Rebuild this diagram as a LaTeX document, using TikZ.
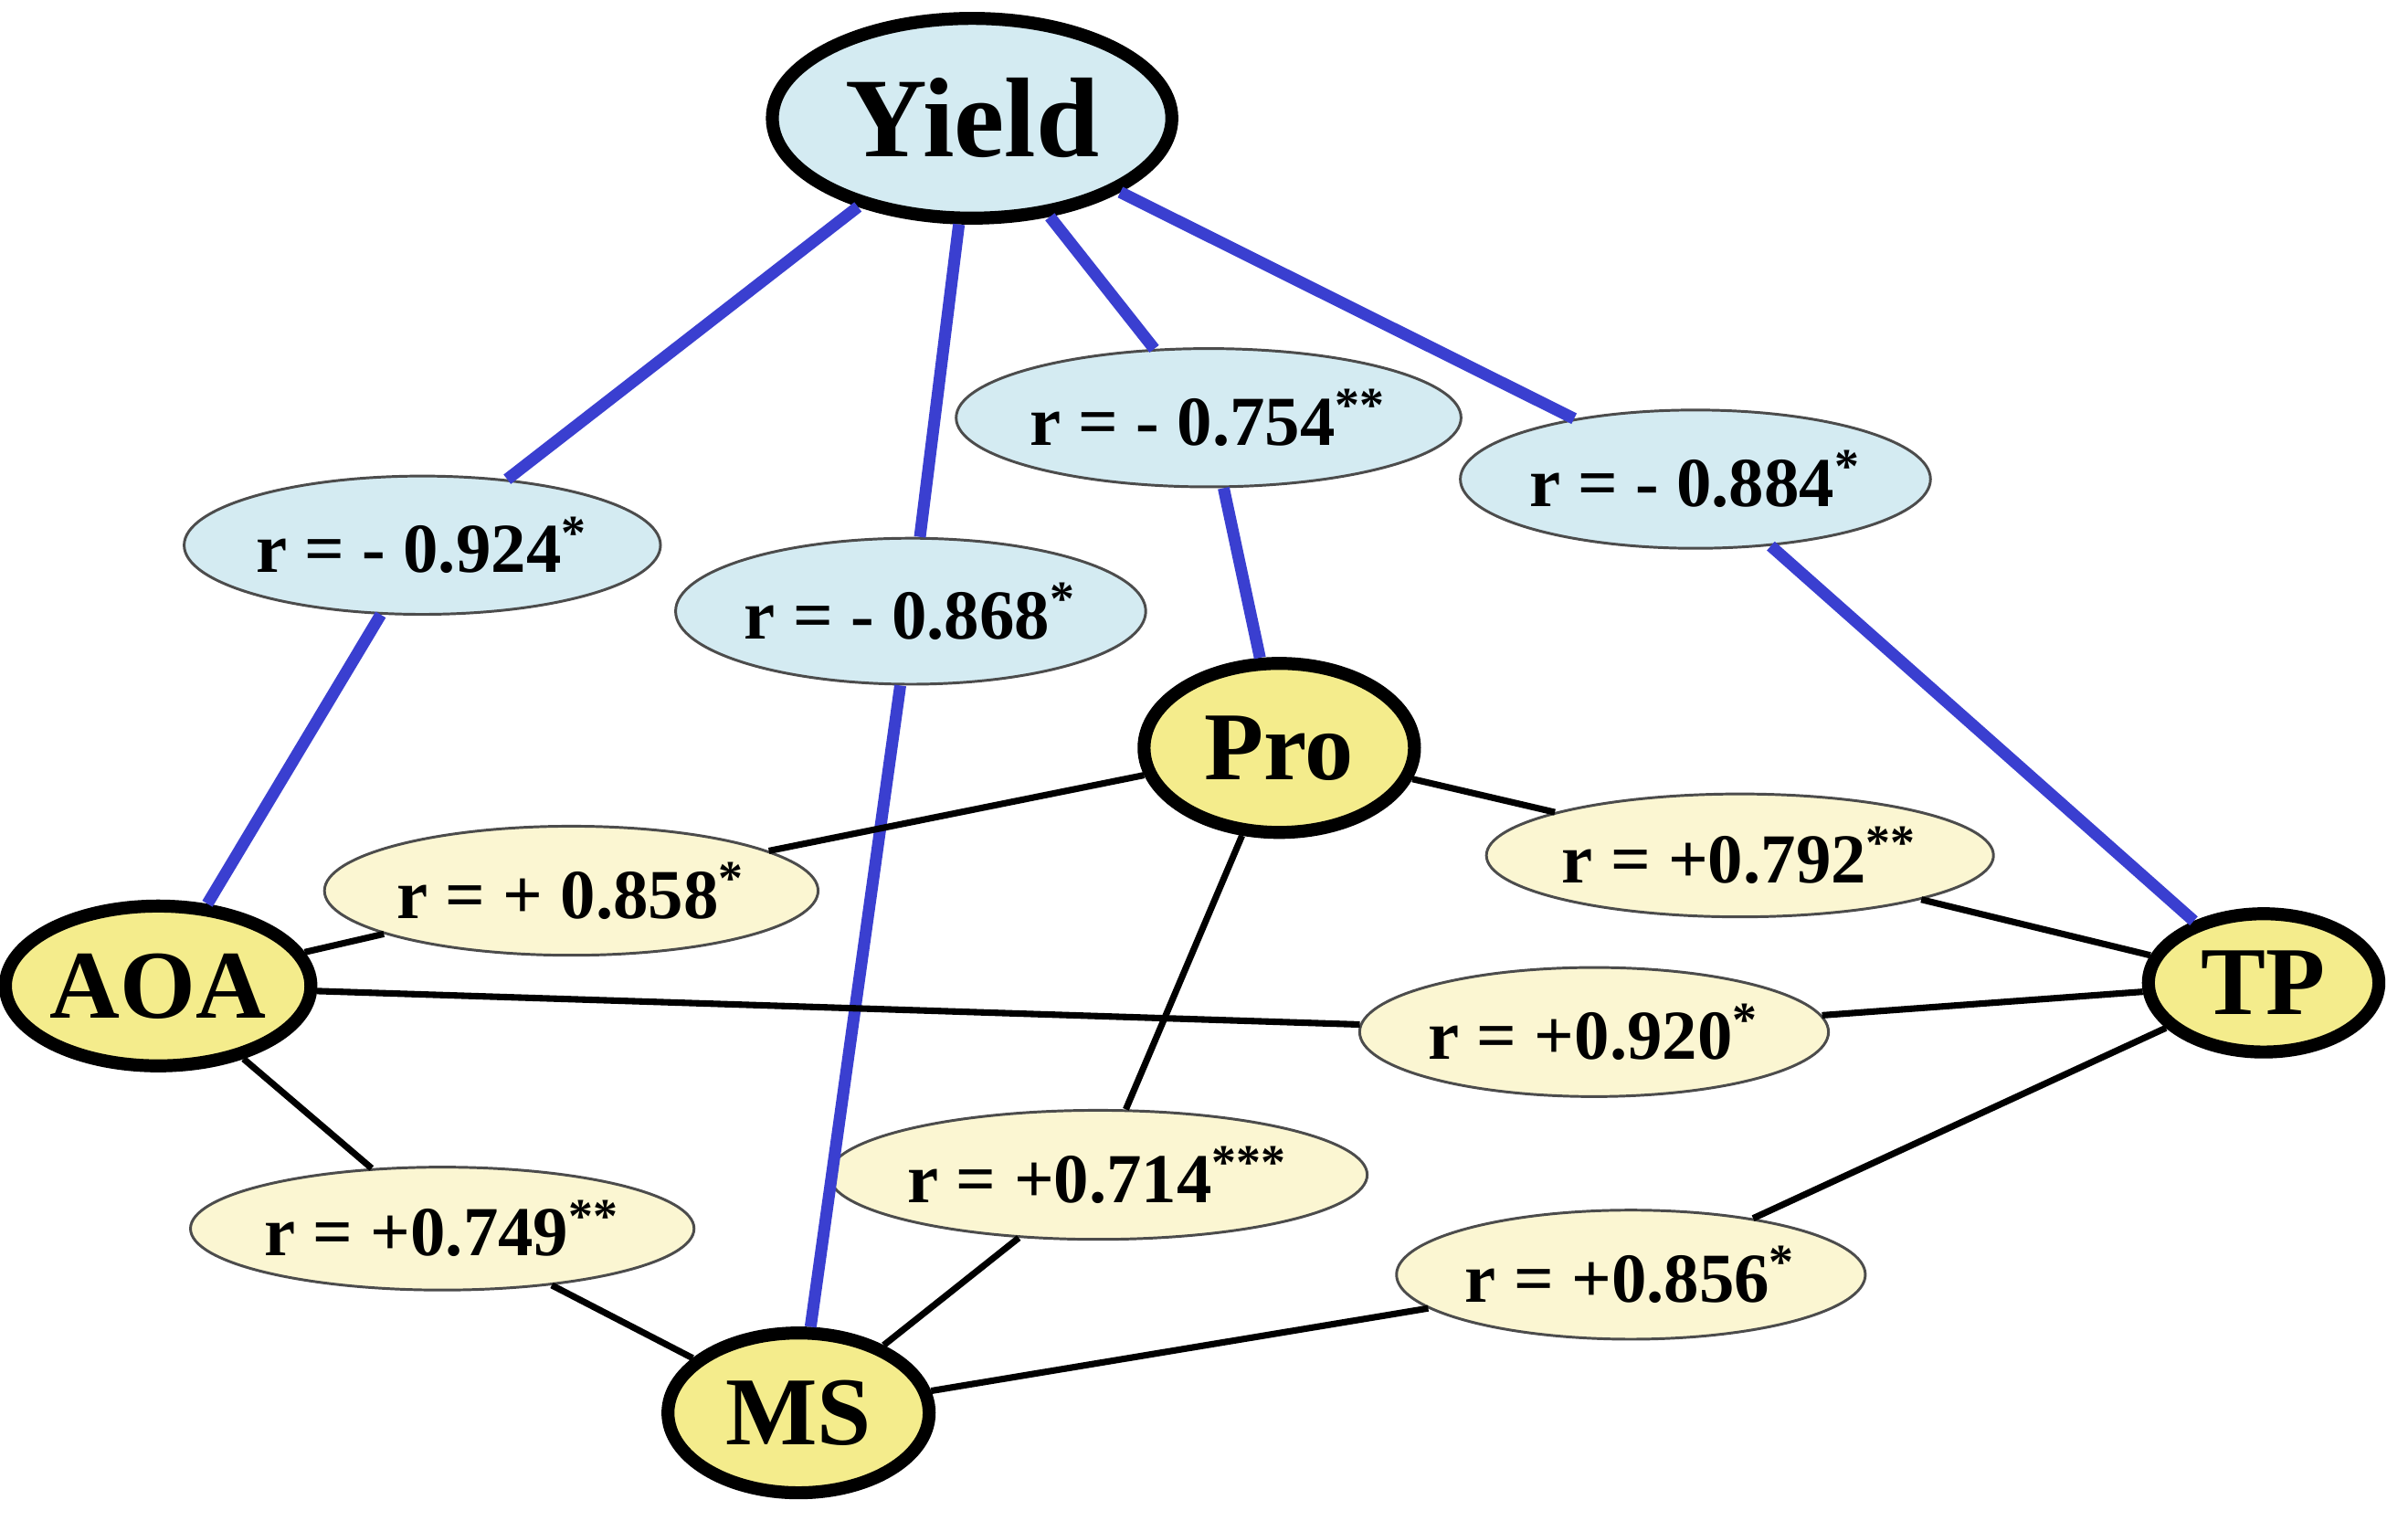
\documentclass[tikz,border=0pt]{standalone}
\usepackage{fontspec}
\setmainfont{Liberation Serif}
\usetikzlibrary{shapes.geometric}
\definecolor{lb}{HTML}{D4EBF2}
\definecolor{ly}{HTML}{F4EC8C}
\definecolor{lly}{HTML}{FBF6D2}
\definecolor{bl}{HTML}{3A3FD0}
\begin{document}
\begin{tikzpicture}[x=0.01cm,y=-0.01cm,
 main/.style={ellipse,draw=black,line width=2.4pt,inner sep=0pt,font=\bfseries\fontsize{18}{18}\selectfont},
 lab/.style={ellipse,draw=black!70,line width=0.5pt,inner sep=0pt,font=\bfseries\fontsize{13}{13}\selectfont,minimum height=0.84cm},
 bb/.style={draw=bl,line width=2.2pt},
 kk/.style={draw=black,line width=1.2pt}]
\useasboundingbox (0,0) rectangle (1568,990);
\node[main,fill=lb,minimum width=2.6cm,minimum height=1.3cm,font=\bfseries\fontsize{21}{21}\selectfont] (Y) at (633,77) {Yield};
\node[main,fill=ly,minimum width=1.76cm,minimum height=1.1cm] (P) at (833,487) {Pro};
\node[main,fill=ly,minimum width=1.74cm,minimum height=1.04cm] (A) at (103,642) {AOA};
\node[main,fill=ly,minimum width=1.5cm,minimum height=0.9cm] (T) at (1474,640) {TP};
\node[main,fill=ly,minimum width=1.7cm,minimum height=1.04cm] (M) at (520,920) {MS};
\node[lab,fill=lb,minimum width=3.1cm,minimum height=0.9cm] (l1) at (275,355) {r = - 0.924\textsuperscript{*}};
\node[lab,fill=lb,minimum width=2.8cm,minimum height=0.95cm] (l2) at (593,398) {r = - 0.868\textsuperscript{*}};
\node[lab,fill=lb,minimum width=2.8cm,minimum height=0.9cm] (l3) at (787,272) {r = - 0.754\textsuperscript{**}};
\node[lab,fill=lb,minimum width=2.86cm,minimum height=0.9cm] (l4) at (1104,312) {r = - 0.884\textsuperscript{*}};
\node[lab,fill=lly,minimum width=2.8cm] (l5) at (372,580) {r = + 0.858\textsuperscript{*}};
\node[lab,fill=lly,minimum width=3.3cm,minimum height=0.8cm] (l6) at (1133,557) {r = +0.792\textsuperscript{**}};
\node[lab,fill=lly,minimum width=2.9cm] (l7) at (1038,672) {r = +0.920\textsuperscript{*}};
\node[lab,fill=lly,minimum width=2.9cm] (l8) at (715,765) {r = +0.714\textsuperscript{***}};
\node[lab,fill=lly,minimum width=2.9cm,minimum height=0.8cm] (l9) at (288,800) {r = +0.749\textsuperscript{**}};
\node[lab,fill=lly,minimum width=3.0cm] (l10) at (1062,830) {r = +0.856\textsuperscript{*}};
\draw[bb] (Y) -- (l1); \draw[bb] (l1) -- (A);
\draw[bb] (Y) -- (l2); \draw[bb] (l2) -- (M);
\draw[bb] (Y) -- (l3); \draw[bb] (l3) -- (P);
\draw[bb] (Y) -- (l4); \draw[bb] (l4) -- (T);
\draw[kk] (P) -- (l5); \draw[kk] (l5) -- (A);
\draw[kk] (P) -- (l6); \draw[kk] (l6) -- (T);
\draw[kk] (A) -- (l7); \draw[kk] (l7) -- (T);
\draw[kk] (P) -- (l8); \draw[kk] (l8) -- (M);
\draw[kk] (A) -- (l9); \draw[kk] (l9) -- (M);
\draw[kk] (T) -- (l10); \draw[kk] (l10) -- (M);
\end{tikzpicture}
\end{document}
